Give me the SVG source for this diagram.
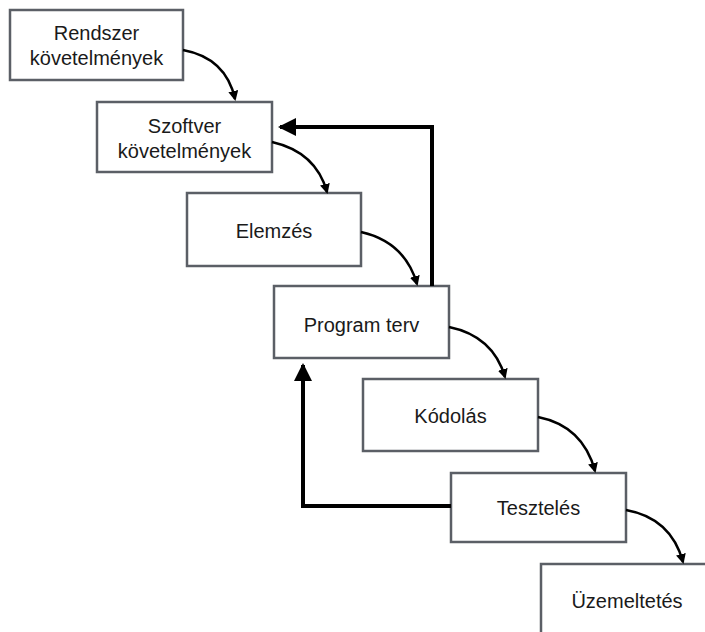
<svg xmlns="http://www.w3.org/2000/svg" width="705" height="632" viewBox="0 0 705 632">
<style>
.box{fill:#fff;stroke:#5b5f66;stroke-width:2.5}
.t{font-family:"Liberation Sans",Arial,sans-serif;font-size:20px;fill:#1a1a1a;text-anchor:middle}
.c{fill:none;stroke:#000;stroke-width:2.5}
.f{fill:none;stroke:#000;stroke-width:4}
</style>
<defs>
<marker id="ah" markerWidth="10" markerHeight="10" refX="8" refY="5" orient="auto" markerUnits="userSpaceOnUse" viewBox="0 0 10 10"><path d="M0,0 L10,5 L0,10 Z" fill="#000"/></marker>
<marker id="ahb" markerWidth="18" markerHeight="18" refX="16" refY="9" orient="auto" markerUnits="userSpaceOnUse" viewBox="0 0 18 18"><path d="M0,0 L18,9 L0,18 Z" fill="#000"/></marker>
</defs>
<rect width="705" height="632" fill="#fff"/>
<g id="n1"><rect class="box" x="10" y="10" width="173" height="70"/><text class="t" x="96.5" y="40">Rendszer</text><text class="t" x="96.5" y="65">követelmények</text></g>
<g id="n2"><rect class="box" x="97" y="102" width="175" height="70"/><text class="t" x="184.5" y="133">Szoftver</text><text class="t" x="184.5" y="158">követelmények</text></g>
<g id="n3"><rect class="box" x="187" y="193" width="174" height="73"/><text class="t" x="274" y="238">Elemzés</text></g>
<g id="n4"><rect class="box" x="274" y="286" width="175" height="72"/><text class="t" x="361.5" y="332">Program terv</text></g>
<g id="n5"><rect class="box" x="363" y="379" width="175" height="72"/><text class="t" x="450.5" y="423">Kódolás</text></g>
<g id="n6"><rect class="box" x="451" y="473" width="175" height="69"/><text class="t" x="538.5" y="515">Tesztelés</text></g>
<g id="n7"><rect class="box" x="541" y="564" width="175" height="72"/><text class="t" x="627" y="608">Üzemeltetés</text></g>
<g id="edges">
<path class="c" d="M183,50 Q226,58 235,99" marker-end="url(#ah)"/>
<path class="c" d="M272,142 Q316,152 327,192" marker-end="url(#ah)"/>
<path class="c" d="M361,232 Q405,242 417,284" marker-end="url(#ah)"/>
<path class="c" d="M449,327 Q493,336 505,377" marker-end="url(#ah)"/>
<path class="c" d="M538,417 Q583,426 595,471" marker-end="url(#ah)"/>
<path class="c" d="M626,510 Q671,518 683,562" marker-end="url(#ah)"/>
<path class="f" d="M432,286 L432,127 L280,127" marker-end="url(#ahb)"/>
<path class="f" d="M451,506 L303,506 L303,365" marker-end="url(#ahb)"/>
</g>
</svg>
